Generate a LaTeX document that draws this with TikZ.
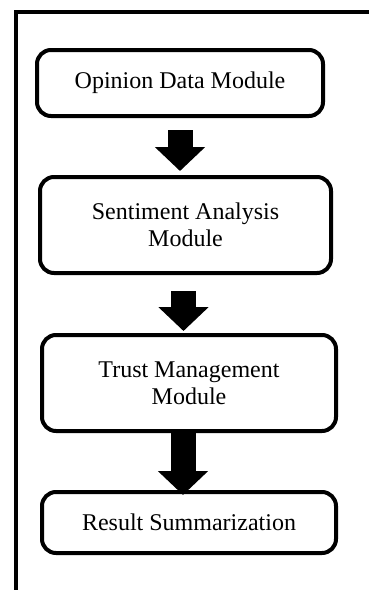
\documentclass[tikz,border=0pt]{standalone}
\usepackage{fontspec}
\setmainfont{Liberation Serif}
\usetikzlibrary{arrows.meta}

\begin{document}
\begin{tikzpicture}[x=0.5pt,y=-0.5pt,
		module/.style = {draw, rounded corners=7pt, line width=2pt, align=center, font=\fontsize{12}{13.6}\selectfont},
		bigarrow/.style = {line width=12.5pt, -{Triangle[length=12pt,width=24.5pt]}}]
				\useasboundingbox (0,0) rectangle (369,590);
				\draw [line width=2pt] (16,590) -- (16,12) -- (369,12);
				\begin{scope}[every node/.style={module}]
					\node[minimum width=143pt, minimum height=33pt] (opinion) at (180,83) {Opinion Data Module};
					\node[minimum width=145.5pt, minimum height=48pt] (sentiment) at (185.5,225) {Sentiment Analysis\\Module};
					\node[minimum width=147pt, minimum height=48pt] (trust) at (189,383) {Trust Management\\Module};
					\node[minimum width=147pt, minimum height=30.5pt] (result) at (189,522.5) {Result Summarization};
				\end{scope}
				\draw [bigarrow, shorten <=6pt, shorten >=2pt] (opinion.south) -- (opinion.south |- sentiment.north);
				\draw [bigarrow, shorten <=8pt, shorten >=1pt] ([xshift=-1pt]sentiment.south) -- ([xshift=-1pt]sentiment.south |- trust.north);
				\draw [bigarrow, shorten >=-2.5pt] ([xshift=-3pt]trust.south) -- ([xshift=-3pt]trust.south |- result.north);
			\end{tikzpicture}
\end{document}
